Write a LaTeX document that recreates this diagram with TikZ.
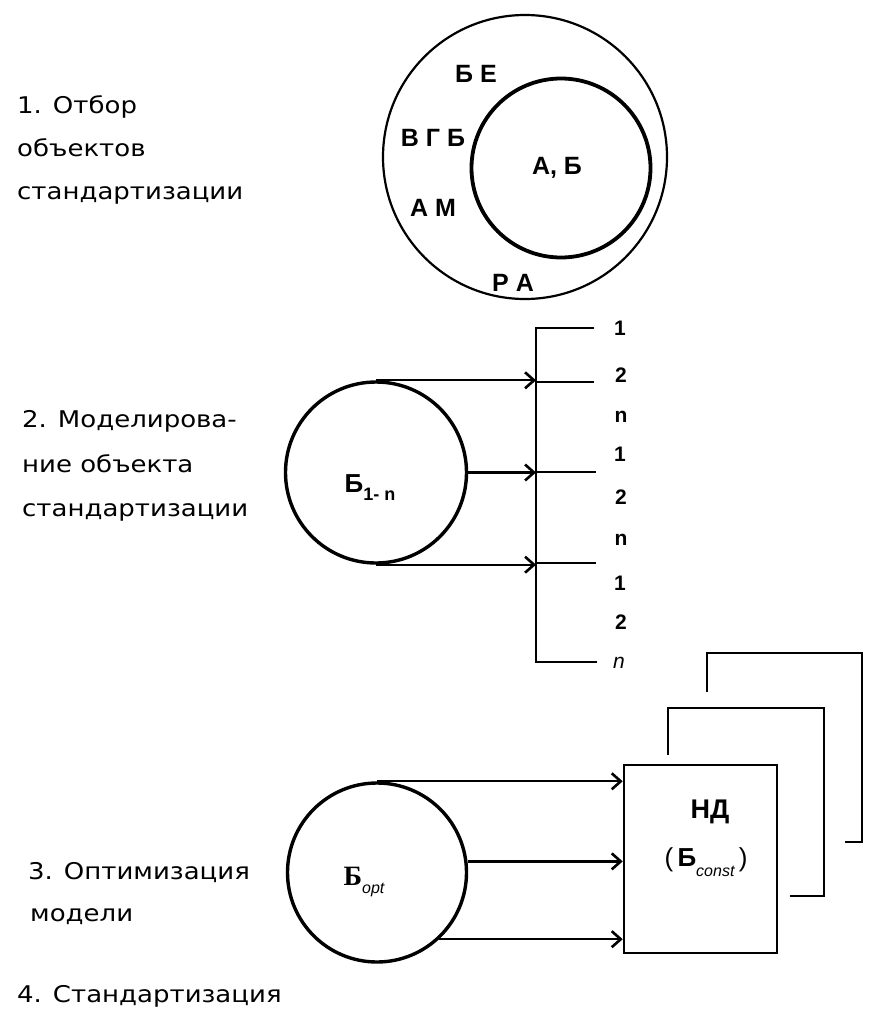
\documentclass[tikz,border=0pt]{standalone}
\usepackage{fontspec}
\setmainfont{Liberation Sans}
\newfontfamily\capfont{DejaVu Sans}
\newfontfamily\serifbold{Liberation Serif}
\usetikzlibrary{arrows.meta}

% caption lines are set slightly wide
\newcommand{\wide}[1]{\scalebox{1.13}[1]{#1}}

\begin{document}
\begin{tikzpicture}[x=1pt,y=-1pt,
  caption/.style={anchor=base west,inner sep=0pt,
    font=\capfont\fontsize{23}{26}\selectfont},
  letters/.style={inner sep=0pt,font=\bfseries\fontsize{25}{28}\selectfont},
  digit/.style={inner sep=0pt,font=\bfseries\fontsize{21}{24}\selectfont},
  ring/.style={circle,draw,inner sep=0pt,line width=3.4pt},
  conn/.style={line width=2.3pt},
  arr/.style={conn,-{Straight Barb[length=9pt,width=16pt,line width=2.6pt]}},
  sheet/.style={line width=2.6pt}]

\useasboundingbox (0,0) rectangle (880,1020);

% ---------- 1. selection of objects ----------
\node[caption] (c1a) at (17,113) {\wide{1. Отбор}};
\node[caption] (c1b) at (17,156) {\wide{объектов}};
\node[caption] (c1c) at (17,199) {\wide{стандартизации}};

\node[circle,draw,inner sep=0pt,line width=2.2pt,minimum size=284pt] (outer) at (525,157) {};
\node[circle,draw,inner sep=0pt,line width=3.8pt,minimum size=179pt] (inner) at (561,168) {};
\node[letters] (lAB) at (557,168) {А, Б};
\node[letters] (lBE) at (476,74) {Б Е};
\node[letters] (lVGB) at (433,138) {В Г Б};
\node[letters] (lAM) at (433,208) {А М};
\node[letters] (lRA) at (513,283) {Р А};

% ---------- 2. modelling ----------
\node[caption] (c2a) at (22,427) {\wide{2. Моделирова-}};
\node[caption] (c2b) at (22,472) {\wide{ние объекта}};
\node[caption] (c2c) at (22,516) {\wide{стандартизации}};

\node[ring,minimum size=181pt] (b1n) at (376,472.5) {};
\node[inner sep=0pt] (lb1n) at (370,488)
  {\fontsize{26}{28}\selectfont\bfseries Б\raisebox{-8pt}{\fontsize{18}{20}\selectfont 1- n}};

\coordinate (bar1) at (536,328);
\coordinate (bar2) at (536,382);
\coordinate (bar3) at (536,472);
\coordinate (bar4) at (536,563);
\coordinate (bar5) at (536,662);
\coordinate (e1) at (594,328);
\coordinate (e2) at (594,382);
\coordinate (e3) at (596,472);
\coordinate (e4) at (596,563);
\coordinate (e5) at (597,662);

\draw[conn] (e1) -- (bar1) -- (bar5) -- (e5);
\draw[conn] (bar2) -- (e2);
\draw[conn] (bar3) -- (e3);
\draw[conn] (bar4) -- (e4);

\draw[arr] (b1n.north) -- (b1n.north -| bar2);
\draw[arr] (b1n.east) -- (b1n.east -| bar3);
\draw[arr] (b1n.south) -- (b1n.south -| bar4);

\node[digit] (d1) at (620,328) {1};
\node[digit] (d2) at (621,375) {2};
\node[digit] (d3) at (621,417) {n};
\node[digit] (d4) at (620,454) {1};
\node[digit] (d5) at (621,497) {2};
\node[digit] (d6) at (621,540) {n};
\node[digit] (d7) at (620,583) {1};
\node[digit] (d8) at (621,622) {2};
\node[digit] (d9) at (619,663) {\mdseries\itshape n};

% ---------- 3. optimisation ----------
\node[caption] (c3a) at (28,879) {\wide{3. Оптимизация}};
\node[caption] (c3b) at (30,921) {\wide{модели}};
\node[caption] (c4) at (17,1002) {\wide{4. Стандартизация}};

\node[ring,minimum size=179pt] (bopt) at (377,872.5) {};
\node[inner sep=0pt] (lbopt) at (364,882)
  {\fontsize{28}{30}\selectfont\serifbold\bfseries Б\raisebox{-8pt}{\fontsize{16}{18}\selectfont\rmfamily\mdseries\itshape opt}};

% stacked documents behind the front sheet
\draw[sheet] (845,842) -- (862,842) -- (862,653) -- (707,653) -- (707,692);
\draw[sheet] (790,896) -- (824,896) -- (824,708) -- (668,708) -- (668,755);

\node[draw,sheet,fill=white,minimum width=153pt,minimum height=188pt,inner sep=0pt] (nd) at (700.5,859) {};
\node[inner sep=0pt,font=\bfseries\fontsize{27}{30}\selectfont] (lnd) at (710,812) {НД};
\node[inner sep=0pt] (lconst) at (706,862)
  {\fontsize{26}{28}\selectfont (\,{\bfseries Б}\raisebox{-10pt}{\fontsize{16}{18}\selectfont\itshape const}\,)};

\draw[arr] (bopt.north) -- (bopt.north -| nd.west);
\draw[arr] (bopt.7) -- (bopt.7 -| nd.west);
\draw[arr] (bopt.-47) -- (bopt.-47 -| nd.west);

\end{tikzpicture}
\end{document}
